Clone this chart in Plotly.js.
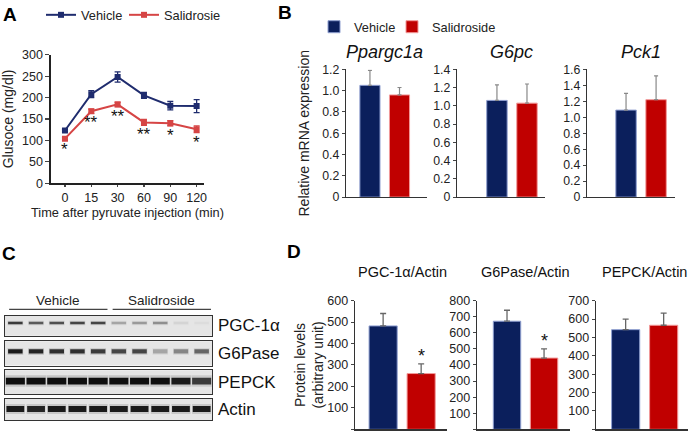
<!DOCTYPE html>
<html>
<head>
<meta charset="utf-8">
<script src="https://cdn.plot.ly/plotly-3.0.1.min.js"></script>
<style>html,body{margin:0;padding:0;background:#fff}#chart{width:700px;height:435px}</style>
</head>
<body>
<div id="chart"></div>
<script>
// ---------- Panel A: pyruvate tolerance ----------
const timeLabels = ['0', '15', '30', '60', '90', '120'];
const vehGlu = [123, 208, 248, 205, 181, 180];
const vehGluErr = [3, 8, 12, 7, 10, 15];
const salGlu = [104, 168, 184, 142, 140, 126];
const salGluErr = [3, 5, 5, 7, 6, 8];
const gluStars = ['*', '**', '**', '**', '*', '*'];

// ---------- Panel B: mRNA ----------
const genes = ['Ppargc1a', 'G6pc', 'Pck1'];
const vehMRNA = [1.05, 1.06, 1.09];
const vehMRNAErr = [0.14, 0.17, 0.21];
const salMRNA = [0.96, 1.03, 1.22];
const salMRNAErr = [0.07, 0.21, 0.30];
const mrnaMax = [1.2, 1.4, 1.6];

// ---------- Panel C: western blot ----------
const groupNames = ['Vehicle', 'Salidroside'];
const groupLanes = [[1, 5], [6, 10]];
const lanes = [1, 2, 3, 4, 5, 6, 7, 8, 9, 10];
const blotLabels = ['PGC-1α', 'G6Pase', 'PEPCK', 'Actin'];
const pgcBands = [0.8, 0.65, 0.7, 0.75, 0.75, 0.3, 0.35, 0.4, 0.08, 0.04];
const g6paseBands = [0.95, 0.9, 0.85, 0.85, 0.8, 0.75, 0.75, 0.3, 0.45, 0.6];
const pepckBands = [1.0, 1.0, 1.0, 1.0, 1.0, 1.0, 1.0, 1.0, 0.95, 0.8];
const actinBands = [0.95, 0.9, 0.95, 0.95, 0.95, 0.95, 0.95, 0.95, 0.95, 0.95];
const bandSets = [pgcBands, g6paseBands, pepckBands, actinBands];
const bandThick = [0.13, 0.17, 0.28, 0.28];
const bandCenter = [0.64, 0.58, 0.55, 0.52];
const bandWidth = [0.7, 0.7, 0.92, 0.86];

// ---------- Panel D: protein quantification ----------
const proteins = ['PGC-1α/Actin', 'G6Pase/Actin', 'PEPCK/Actin'];
const vehProt = [482, 672, 542];
const vehProtErr = [58, 68, 57];
const salProt = [260, 443, 566];
const salProtErr = [45, 57, 66];
const protMax = [600, 800, 700];
const protStars = ['*', '*', ''];

// ---------- styles ----------
const NAVY = '#0b1f5c';
const RED = '#c00000';
const LNAVY = '#1f2c6e';
const LRED = '#d64545';
const FONT = 'Liberation Sans, Arial, sans-serif';
const W = 700, H = 435;
const px = v => v / W;
const py = v => 1 - v / H;

const traces = [];
const layout = {
  width: W, height: H,
  margin: {l: 0, r: 0, t: 0, b: 0},
  paper_bgcolor: '#fff', plot_bgcolor: 'rgba(0,0,0,0)',
  font: {family: FONT, color: '#222', size: 12},
  barmode: 'overlay',
  showlegend: true,
  shapes: [], annotations: []
};
const legendBase = (x, y, size) => ({
  orientation: 'h', x: px(x), y: py(y), xanchor: 'left', yanchor: 'middle',
  font: {size: size}, bgcolor: 'rgba(0,0,0,0)', borderwidth: 0
});

// Panel A
const idx = timeLabels.map((_, i) => i);
traces.push({
  type: 'scatter', mode: 'lines+markers', name: 'Vehicle', x: idx, y: vehGlu,
  line: {color: LNAVY, width: 2}, marker: {symbol: 'square', size: 6, color: LNAVY},
  error_y: {type: 'data', array: vehGluErr, color: LNAVY, thickness: 1.3, width: 3},
  xaxis: 'x', yaxis: 'y', legend: 'legend'
});
traces.push({
  type: 'scatter', mode: 'lines+markers', name: 'Salidrosie', x: idx, y: salGlu,
  line: {color: LRED, width: 2}, marker: {symbol: 'square', size: 6, color: LRED},
  error_y: {type: 'data', array: salGluErr, color: LRED, thickness: 1.3, width: 3},
  xaxis: 'x', yaxis: 'y', legend: 'legend3'
});
layout.xaxis = {
  domain: [px(51), px(204)], range: [-0.53, 5.28], anchor: 'y',
  tickvals: idx, ticktext: timeLabels, ticks: 'outside', ticklen: 2, tickwidth: 1.3,
  showline: true, linewidth: 1.6, linecolor: '#222', showgrid: false, zeroline: false,
  tickfont: {size: 12.5},
  title: {text: 'Time after pyruvate injection (min)', font: {size: 12.8}, standoff: 0}
};
layout.yaxis = {
  domain: [py(182), py(53)], range: [0, 300], dtick: 50, anchor: 'x',
  ticks: 'outside', ticklen: 4, tickwidth: 1.3,
  showline: true, linewidth: 1.6, linecolor: '#222', showgrid: false, zeroline: false,
  tickfont: {size: 12.5},
  title: {text: 'Glusoce (mg/dl)', font: {size: 14}, standoff: 6}
};
layout.legend = legendBase(41, 13, 12.8);
layout.legend3 = legendBase(124, 13, 12.8);
idx.forEach(i => {
  layout.annotations.push({
    xref: 'x', yref: 'y', x: i, y: salGlu[i] - salGluErr[i], text: gluStars[i],
    showarrow: false, yanchor: 'top', xanchor: 'center', yshift: 2,
    font: {size: 17, color: '#111'}
  });
});

// Panel B
const bGeom = [
  {dom: [346, 427], range: [-0.81, 1.93]},
  {dom: [457, 545], range: [-1.33, 1.6]},
  {dom: [587, 675], range: [-1.3, 1.63]}
];
genes.forEach((g, k) => {
  const n = 2 + k;
  const xa = 'x' + n, ya = 'y' + n;
  traces.push({
    type: 'bar', name: 'Vehicle', x: [0], y: [vehMRNA[k]], width: 0.68,
    marker: {color: NAVY, line: {color: '#8f9fd0', width: 1}},
    error_y: {type: 'data', symmetric: false, array: [vehMRNAErr[k]], arrayminus: [0], color: '#888', thickness: 1.2, width: 2},
    xaxis: xa, yaxis: ya, legend: 'legend2', showlegend: k === 0, hoverinfo: 'y'
  });
  traces.push({
    type: 'bar', name: 'Salidroside', x: [1], y: [salMRNA[k]], width: 0.68,
    marker: {color: RED, line: {color: '#f29a9a', width: 1}},
    error_y: {type: 'data', symmetric: false, array: [salMRNAErr[k]], arrayminus: [0], color: '#888', thickness: 1.2, width: 2},
    xaxis: xa, yaxis: ya, legend: 'legend4', showlegend: k === 0, hoverinfo: 'y'
  });
  const nt = Math.round(mrnaMax[k] / 0.2) + 1;
  layout['xaxis' + n] = {
    domain: [px(bGeom[k].dom[0]), px(bGeom[k].dom[1])], range: bGeom[k].range, anchor: ya,
    showticklabels: false, ticks: '', showline: true, linewidth: 1.3, linecolor: '#333',
    showgrid: false, zeroline: false
  };
  layout['yaxis' + n] = {
    domain: [py(196), py(67.7)], range: [0, mrnaMax[k]], anchor: xa,
    ticks: 'outside', ticklen: 3, tickwidth: 1,
    showline: true, linewidth: 1.3, linecolor: '#333', showgrid: false, zeroline: false,
    tickfont: {size: 12.3},
    tickvals: Array.from({length: nt}, (_, i) => +(i * 0.2).toFixed(1)),
    ticktext: Array.from({length: nt}, (_, i) => i === 0 ? '0' : (i * 0.2).toFixed(1))
  };
  layout.annotations.push({
    xref: xa, yref: 'paper', x: 0.5, y: py(50), text: '<i>' + g + '</i>', showarrow: false,
    xanchor: 'center', yanchor: 'middle', font: {size: 18, color: '#111'}
  });
});
layout.yaxis2.title = {text: 'Relative mRNA expression', font: {size: 14}, standoff: 9};
layout.legend2 = legendBase(314, 25, 12.8);
layout.legend4 = legendBase(392, 25, 12.8);

// Panel D
const dGeom = [
  {dom: [355, 447], range: [-0.74, 1.68]},
  {dom: [477, 570], range: [-0.81, 1.70]},
  {dom: [596, 688], range: [-0.78, 1.64]}
];
proteins.forEach((p, k) => {
  const n = 5 + k;
  const xa = 'x' + n, ya = 'y' + n;
  traces.push({
    type: 'bar', name: 'Vehicle', x: [0], y: [vehProt[k]], width: 0.74,
    marker: {color: NAVY, line: {color: '#8f9fd0', width: 1}},
    error_y: {type: 'data', symmetric: false, array: [vehProtErr[k]], arrayminus: [0], color: '#666', thickness: 1.3, width: 3},
    xaxis: xa, yaxis: ya, showlegend: false, hoverinfo: 'y'
  });
  traces.push({
    type: 'bar', name: 'Salidroside', x: [1], y: [salProt[k]], width: 0.74,
    marker: {color: RED, line: {color: '#f29a9a', width: 1}},
    error_y: {type: 'data', symmetric: false, array: [salProtErr[k]], arrayminus: [0], color: '#666', thickness: 1.3, width: 3},
    xaxis: xa, yaxis: ya, showlegend: false, hoverinfo: 'y'
  });
  layout['xaxis' + n] = {
    domain: [px(dGeom[k].dom[0]), px(dGeom[k].dom[1])], range: dGeom[k].range, anchor: ya,
    showticklabels: false, ticks: '', showline: true, linewidth: 1.3, linecolor: '#333',
    showgrid: false, zeroline: false
  };
  layout['yaxis' + n] = {
    domain: [py(429.3), py(300)], range: [0, protMax[k]], dtick: 100, anchor: xa,
    ticks: 'outside', ticklen: 3, tickwidth: 1,
    showline: true, linewidth: 1.3, linecolor: '#333', showgrid: false, zeroline: false,
    tickfont: {size: 12.5}
  };
  layout.annotations.push({
    xref: xa, yref: 'paper', x: 0.5, y: py(271), text: p, showarrow: false,
    xanchor: 'center', yanchor: 'middle', font: {size: 14.5, color: '#111'}
  });
  if (protStars[k]) {
    layout.annotations.push({
      xref: xa, yref: ya, x: 1, y: salProt[k] + salProtErr[k], text: protStars[k], showarrow: false,
      xanchor: 'center', yanchor: 'bottom', yshift: -4, font: {size: 18, color: '#111'}
    });
  }
});
layout.yaxis5.title = {text: 'Protein levels<br>(arbitrary unit)', font: {size: 14}, standoff: 0};

// Panel C: blots
const rowBox = [[315.3, 335.3], [340.7, 365.3], [370, 394], [398.7, 420]];
const BG = 229;
const shade = (v, a) => {
  const g = Math.round(BG - v * (BG - 15) * a);
  return 'rgb(' + g + ',' + g + ',' + g + ')';
};
bandSets.forEach((bands, r) => {
  const n = 8 + r;
  const xa = 'x' + n, ya = 'y' + n;
  const t = bandThick[r], c = bandCenter[r];
  traces.push({
    type: 'bar', x: lanes, y: lanes.map(() => t * 1.7), base: lanes.map(() => c - t * 0.85),
    width: bandWidth[r] + 0.06, marker: {color: bands.map(v => shade(v, 0.15)), line: {width: 0}},
    xaxis: xa, yaxis: ya, showlegend: false, hoverinfo: 'skip'
  });
  traces.push({
    type: 'bar', x: lanes, y: lanes.map(() => t), base: lanes.map(() => c - t / 2),
    width: bandWidth[r], marker: {color: bands.map(v => shade(v, 1)), line: {width: 0}},
    xaxis: xa, yaxis: ya, showlegend: false, hoverinfo: 'skip'
  });
  layout['xaxis' + n] = {
    domain: [px(5), px(212)], range: [0.5, 10.5], anchor: ya,
    showticklabels: false, ticks: '', showline: true, mirror: true, linewidth: 1.2, linecolor: '#333',
    showgrid: false, zeroline: false
  };
  layout['yaxis' + n] = {
    domain: [py(rowBox[r][1]), py(rowBox[r][0])], range: [0, 1], anchor: xa,
    showticklabels: false, ticks: '', showline: true, mirror: true, linewidth: 1.2, linecolor: '#333',
    showgrid: false, zeroline: false
  };
  layout.shapes.push({
    type: 'rect', xref: xa + ' domain', yref: ya + ' domain', x0: 0, x1: 1, y0: 0, y1: 1,
    fillcolor: 'rgb(' + BG + ',' + BG + ',' + BG + ')', line: {width: 0}, layer: 'below'
  });
  layout.annotations.push({
    xref: 'paper', yref: ya + ' domain', x: px(216), y: 0.5, text: blotLabels[r], showarrow: false,
    xanchor: 'left', yanchor: 'middle', font: {size: 17, color: '#111'}
  });
});
groupNames.forEach((g, i) => {
  const [a, b] = groupLanes[i];
  layout.shapes.push({
    type: 'line', xref: 'x8', yref: 'paper', x0: a - 0.3, x1: b + 0.45, y0: py(308.7), y1: py(308.7),
    line: {color: '#444', width: 1.2}
  });
  layout.annotations.push({
    xref: 'x8', yref: 'paper', x: (a + b) / 2 + 0.05, y: py(300), text: g, showarrow: false,
    xanchor: 'center', yanchor: 'middle', font: {size: 13.5, color: '#222'}
  });
});

// panel letters
[['A', 10, 13], ['B', 285, 11], ['C', 9, 253], ['D', 294, 251]].forEach(([t, x, y]) => {
  layout.annotations.push({
    xref: 'paper', yref: 'paper', x: px(x), y: py(y), text: '<b>' + t + '</b>', showarrow: false,
    xanchor: 'center', yanchor: 'middle', font: {size: 19, color: '#000'}
  });
});

Plotly.newPlot('chart', traces, layout, {staticPlot: true, displayModeBar: false});
</script>
</body>
</html>
